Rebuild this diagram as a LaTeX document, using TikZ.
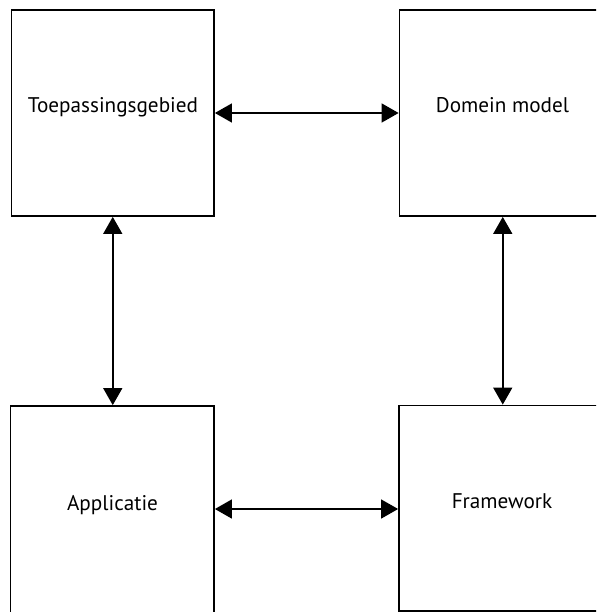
\documentclass[tikz,border=0pt]{standalone}
\usepackage{fontspec}
\setmainfont{PT Sans}
\usetikzlibrary{arrows.meta}
\begin{document}
\begin{tikzpicture}[x=1pt,y=-1pt,
  box/.style={draw,line width=1.8pt,minimum width=#1,inner sep=0pt},
  lbl/.style={anchor=base,font=\fontsize{21.2}{24}\selectfont,inner sep=0pt},
  link/.style={line width=1.5pt,{Triangle[length=17pt,width=19pt]}-{Triangle[length=17pt,width=19pt]}}]
\useasboundingbox (0,0) rectangle (596,612);
\clip (0,0) rectangle (596,612);
\node[box=202.5pt,minimum height=206pt] (tl) at (112.75,113) {};
\node[box=206.5pt,minimum height=206pt] (tr) at (502.75,113) {};
\node[box=203.5pt,minimum height=208pt] (bl) at (112.25,510) {};
\node[box=207pt,minimum height=205.5pt] (br) at (502.5,508.25) {};
\node[lbl] (ltl) at (113,113) {Toepassingsgebied};
\node[lbl] (ltr) at (502.5,113) {Domein model};
\node[lbl] (lbl) at (112.5,510) {Applicatie};
\node[lbl] (lbr) at (502,508) {Framework};
\draw[link] (tl.east) -- (tr.west);
\draw[link] (tl.south) -- (tl.south |- bl.north);
\draw[link] (tr.south) -- (tr.south |- br.north);
\draw[link] ([yshift=1pt]bl.east) -- ([yshift=1pt]bl.east -| br.west);
\end{tikzpicture}
\end{document}
